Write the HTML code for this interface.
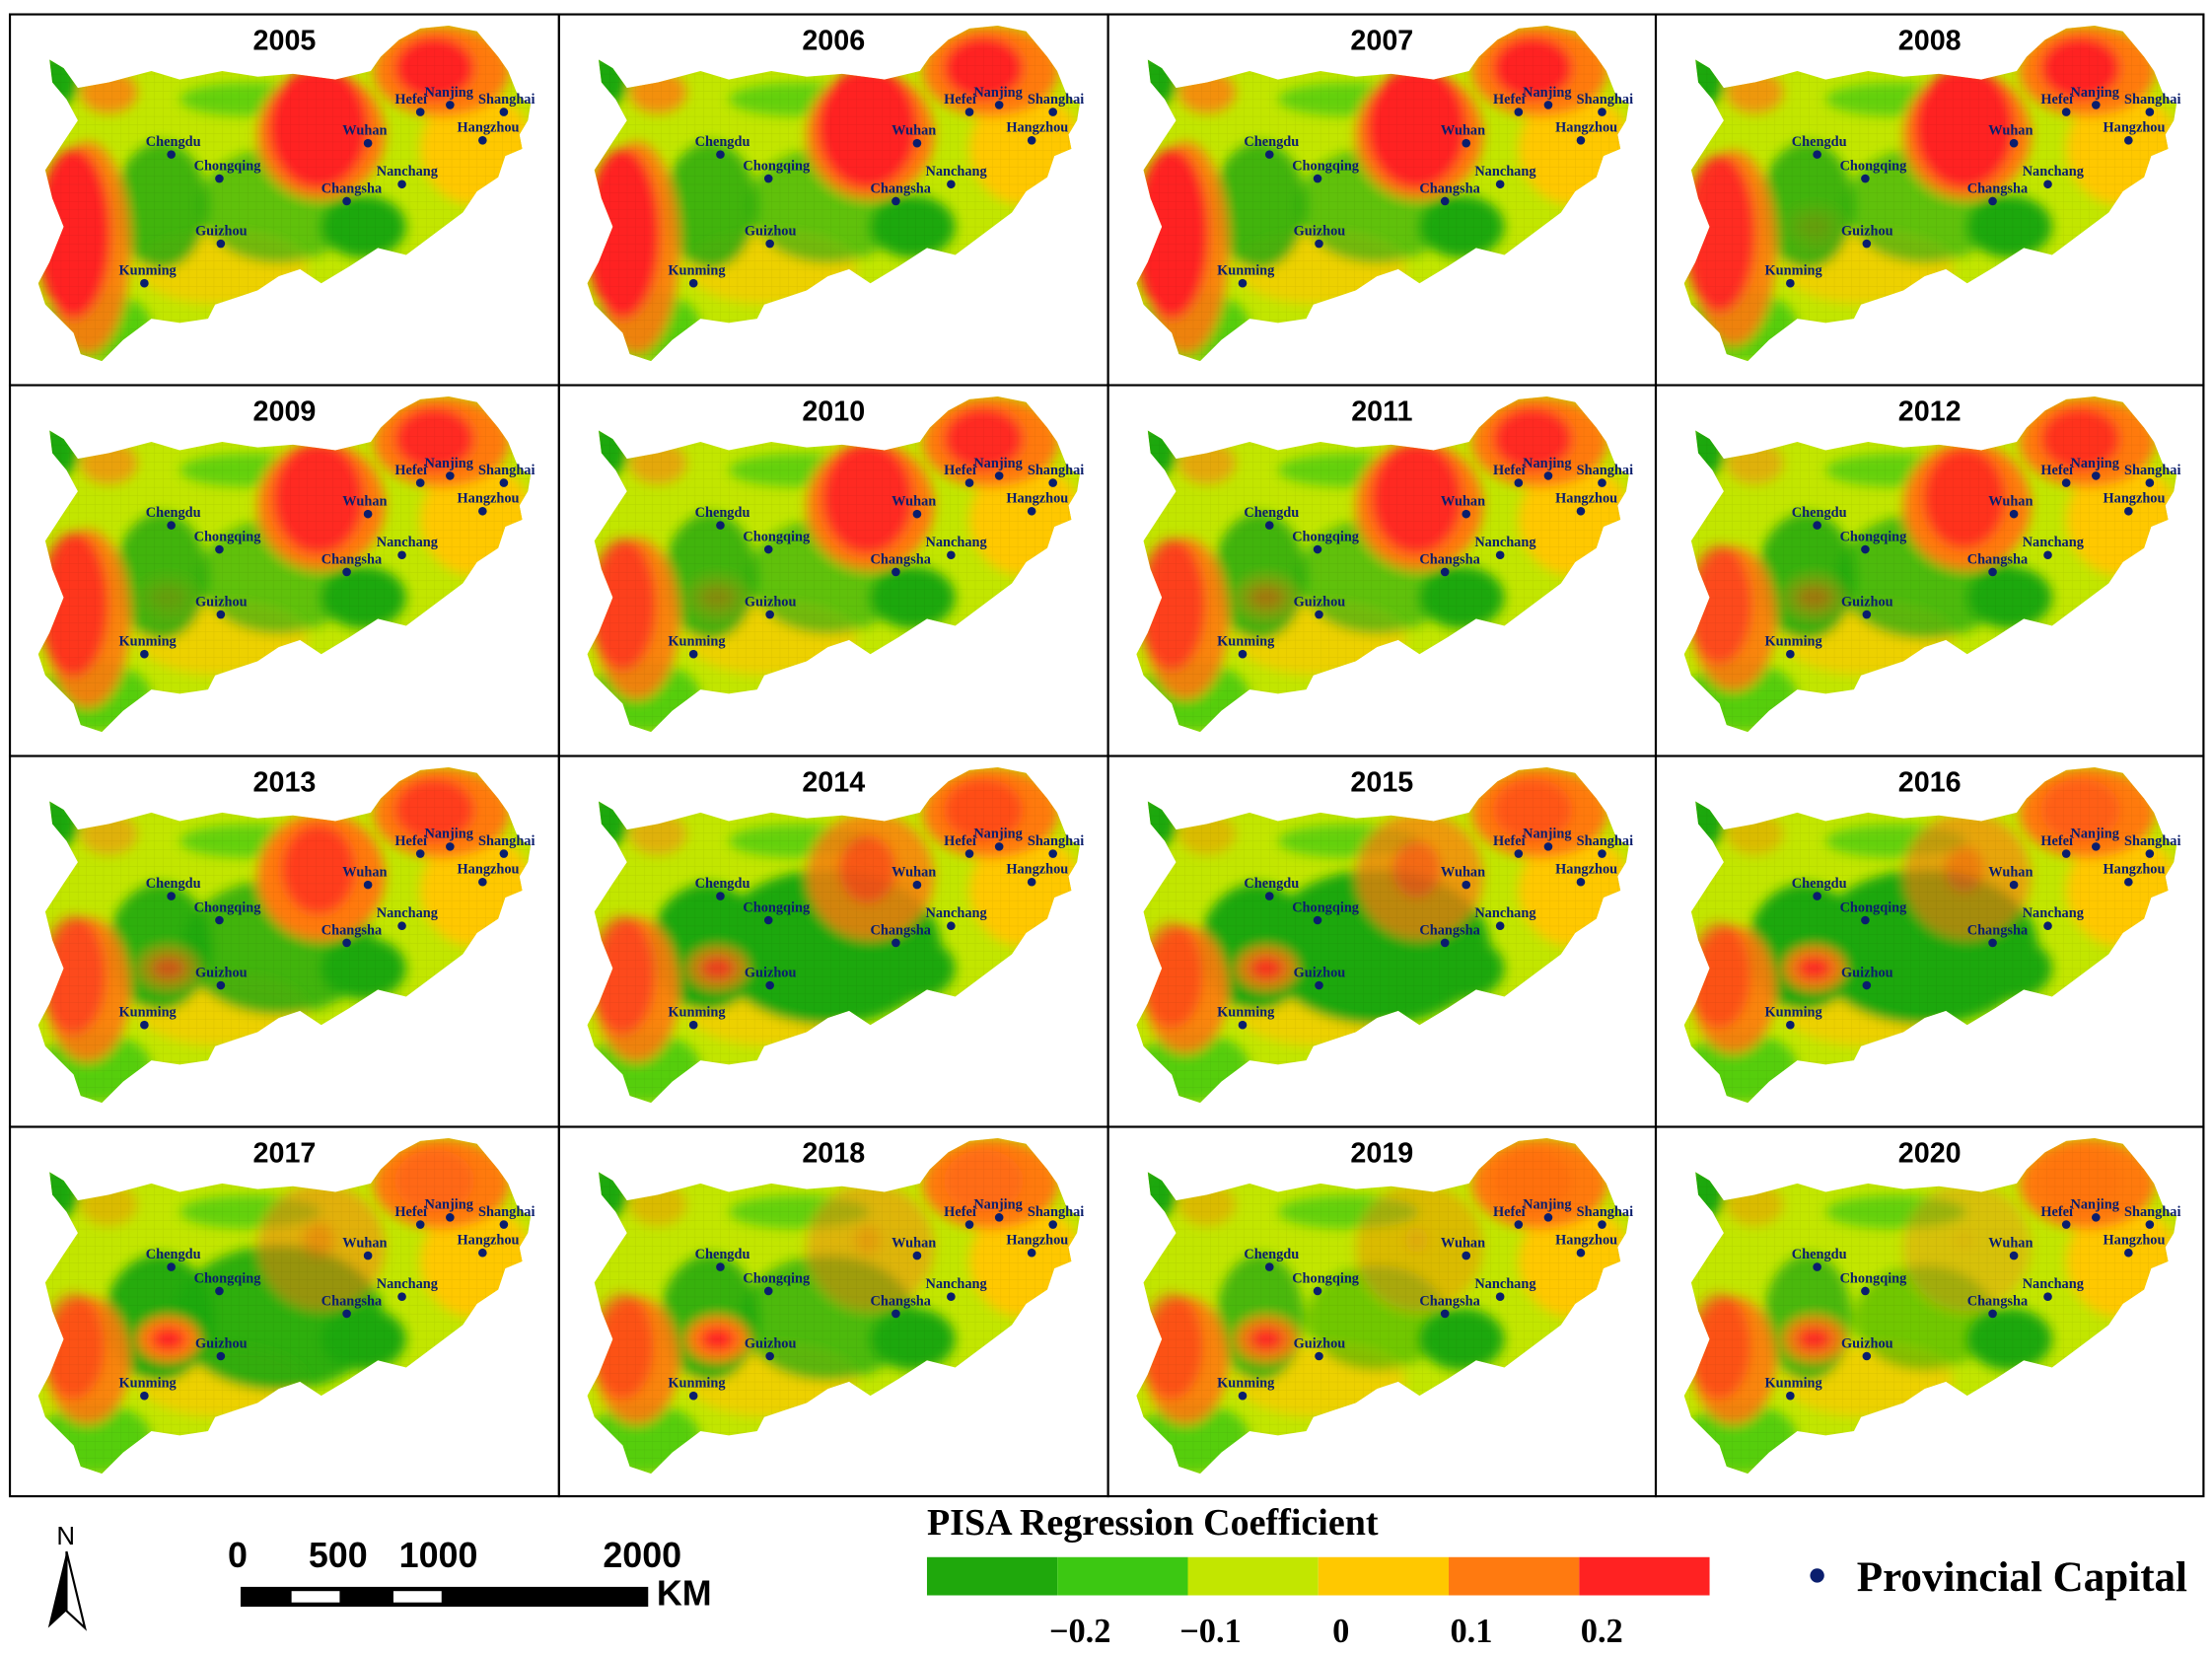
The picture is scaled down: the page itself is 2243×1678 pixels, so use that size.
<!DOCTYPE html>
<html><head><meta charset="utf-8"><style>
html,body{margin:0;padding:0;background:#fff}
svg{display:block}
</style></head><body>
<svg id="fig" width="2243" height="1678" viewBox="0 0 1563 1169" xmlns="http://www.w3.org/2000/svg">
<defs>
<clipPath id="mapclip"><path id="outline" d="M28,32 L38,38 L48,52 L70,48 L100,40 L120,46 L150,40 L175,44 L200,42 L230,46 L255,40 L262,30 L275,18 L290,10 L310,8 L330,12 L345,30 L352,40 L358,55 L362,60 L368,63 L366,75 L360,85 L362,95 L350,100 L345,115 L330,125 L320,140 L300,155 L280,170 L260,165 L240,178 L220,190 L205,180 L190,185 L175,195 L160,200 L145,205 L140,215 L120,218 L100,215 L80,230 L65,245 L50,240 L45,225 L35,215 L25,205 L20,190 L28,175 L38,150 L30,130 L25,110 L38,90 L48,75 L40,60 L30,48 Z"/></clipPath>
<filter id="soft"><feGaussianBlur stdDeviation="4"/></filter>
<pattern id="grid" width="6" height="6" patternUnits="userSpaceOnUse"><path d="M0,0 H6 M0,0 V6" stroke="#000" stroke-opacity="0.08" stroke-width="0.6"/></pattern>
</defs>
<g id="panels"></g>
<g id="legend">
<text x="655" y="1084" font-family="Liberation Serif, serif" font-weight="bold" font-size="26.5">PISA Regression Coefficient</text>
<g id="legend-bar"></g>
</g>
<g>
<text x="40" y="1091" font-family="Liberation Sans, sans-serif" font-size="18">N</text>
<path d="M47,1096 L34,1150 L47,1138 Z" fill="#000"/><path d="M47,1096 L60,1150 L47,1138 Z" fill="#fff" stroke="#000" stroke-width="1.5"/>
</g>
<g font-family="Liberation Sans, sans-serif" font-weight="bold" font-size="25">
<text x="161" y="1107">0</text><text x="218" y="1107">500</text><text x="282" y="1107">1000</text><text x="426" y="1107">2000</text>
<rect x="170" y="1121" width="288" height="14" fill="#000"/>
<rect x="206" y="1124" width="34" height="8" fill="#fff"/><rect x="278" y="1124" width="34" height="8" fill="#fff"/>
<text x="464" y="1134">KM</text>
</g>
<g>
<circle cx="1284" cy="1113" r="5" fill="#0a1e6e"/>
<text x="1312" y="1124" font-family="Liberation Serif, serif" font-weight="bold" font-size="30">Provincial Capital</text>
</g>
</svg>
<script>
const years=[2005,2006,2007,2008,2009,2010,2011,2012,2013,2014,2015,2016,2017,2018,2019,2020];
const classColors=["#1fa80c","#3cc812","#c2e600","#ffc800","#ff7a10","#ff2222"];
const tickLabels=["\u22120.2","\u22120.1","0","0.1","0.2"];
const capNames=["Chengdu","Chongqing","Guizhou","Kunming","Changsha","Wuhan","Nanchang","Hefei","Nanjing","Shanghai","Hangzhou"];
const capX=[114,148,149,95,238,253,277,290,311,349,334];
const capY=[99,116,162,190,132,91,120,69,64,69,89];
// intensity of each regional pattern per year (0..1)
const centralRed=[1,1,1,1,0.9,0.9,0.9,0.8,0.7,0.5,0.4,0.3,0.2,0.15,0.1,0.05];
const westRed=[1,1,1,0.9,0.8,0.7,0.7,0.6,0.6,0.6,0.5,0.5,0.5,0.5,0.5,0.5];
const midGreen=[0.6,0.6,0.6,0.6,0.6,0.6,0.6,0.7,0.8,1,1,1,0.9,0.7,0.5,0.5];
const spotRed=[0,0,0,0.1,0.1,0.2,0.3,0.3,0.5,0.7,0.8,0.9,1,1,0.9,0.9];

const NS="http://www.w3.org/2000/svg";
const panels=document.getElementById('panels');
function mk(tag,attrs,parent){const e=document.createElementNS(NS,tag);for(const k in attrs)e.setAttribute(k,attrs[k]);parent.appendChild(e);return e;}
const colX=[7,395,783,1170,1557], rowY=[10,272,534,796,1057];
years.forEach((yr,i)=>{
  const c=i%4,r=Math.floor(i/4);
  const x0=colX[c],y0=rowY[r],w=colX[c+1]-x0,h=rowY[r+1]-y0;
  const g=mk('g',{transform:`translate(${x0},${y0})`},panels);
  
  
  mk('rect',{x:0,y:0,width:w,height:h,fill:'#fff',stroke:'#000','stroke-width':1.5},g);
  const t=mk('text',{x:w/2,y:25,'text-anchor':'middle','font-family':'Liberation Sans, sans-serif','font-weight':'bold','font-size':20},g);
  t.textContent=yr;
  
  
  const m=mk('g',{'clip-path':'url(#mapclip)'},g);
  
  
  mk('rect',{x:0,y:0,width:w,height:h,fill:classColors[2]},m);
  const b=mk('g',{filter:'url(#soft)'},m);
  const cr=centralRed[i],wr=westRed[i],mg=midGreen[i],sr=spotRed[i];
  mk('ellipse',{cx:330,cy:95,rx:40,ry:40,fill:classColors[3]},b);
  mk('ellipse',{cx:150,cy:180,rx:60,ry:25,fill:classColors[3],opacity:0.7},b);
  mk('ellipse',{cx:60,cy:220,rx:40,ry:25,fill:classColors[1],opacity:0.8},b);
  mk('ellipse',{cx:35,cy:45,rx:14,ry:20,fill:classColors[0]},b);
  mk('ellipse',{cx:105+(1-mg)*5,cy:135,rx:22+mg*18,ry:45,fill:classColors[0],opacity:0.5+mg*0.5},b);
  mk('ellipse',{cx:190,cy:135,rx:20+mg*60,ry:20+mg*35,fill:classColors[0],opacity:mg},b);
  mk('ellipse',{cx:250,cy:150,rx:30,ry:22,fill:classColors[0]},b);
  mk('ellipse',{cx:170,cy:60,rx:50,ry:12,fill:classColors[1],opacity:0.7},b);
  mk('ellipse',{cx:220,cy:85,rx:45,ry:45,fill:classColors[4],opacity:Math.min(1,cr+0.3)},b);
  mk('ellipse',{cx:218,cy:80,rx:30*cr+5,ry:38*cr+5,fill:classColors[5],opacity:cr},b);
  mk('ellipse',{cx:305,cy:40,rx:48,ry:32,fill:classColors[4]},b);
  mk('ellipse',{cx:300,cy:38,rx:28,ry:22,fill:classColors[5],opacity:cr},b);
  mk('ellipse',{cx:55,cy:165,rx:30,ry:60*wr+15,fill:classColors[4],opacity:0.9},b);
  mk('ellipse',{cx:45,cy:155,rx:18+wr*8,ry:15+wr*45,fill:classColors[5],opacity:wr},b);
  mk('ellipse',{cx:70,cy:55,rx:20,ry:15,fill:classColors[4],opacity:wr*0.8},b);
  mk('ellipse',{cx:112,cy:150,rx:22,ry:16,fill:classColors[4],opacity:sr},b);
  mk('ellipse',{cx:112,cy:150,rx:12,ry:8,fill:classColors[5],opacity:sr},b);
  mk('rect',{x:0,y:0,width:w,height:h,fill:'url(#grid)'},m);
  capNames.forEach((n,k)=>{
    const d=mk('circle',{cx:capX[k],cy:capY[k],r:3,fill:'#0a1e6e'},g);
    
    
    const l=mk('text',{x:capX[k]-18,y:capY[k]-6,'font-family':'Liberation Serif, serif','font-weight':'bold','font-size':10,fill:'#0a1e6e'},g);
    l.textContent=n;
    
    
  });
});
const lb=document.getElementById('legend-bar');
const segW=(1208-655)/classColors.length;
classColors.forEach((col,k)=>{
  const r=mk('rect',{x:655+k*segW,y:1100,width:segW,height:27,fill:col},lb);
  
  
});
tickLabels.forEach((s,k)=>{
  const t=mk('text',{x:655+(k+1)*segW+16,y:1160,'text-anchor':'middle','font-family':'Liberation Serif, serif','font-weight':'bold','font-size':24},lb);
  t.textContent=s;
  
  
});
</script>
</body></html>
